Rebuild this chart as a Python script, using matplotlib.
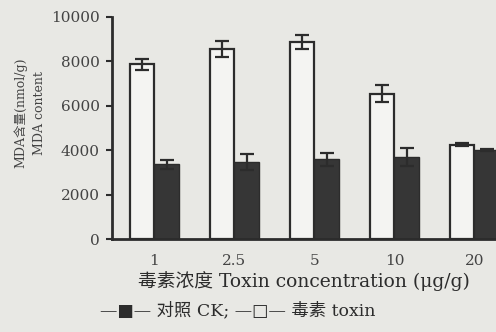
import numpy as np
import matplotlib
matplotlib.use("Agg")
import matplotlib.pyplot as plt

plt.rcParams['font.family'] = ['DejaVu Serif', 'Noto Sans CJK SC', 'DejaVu Sans']

conc = ['1', '2.5', '5', '10', '20']
toxin = [7870, 8550, 8870, 6550, 4250]
toxin_err = [250, 370, 310, 370, 60]
ck = [3360, 3480, 3590, 3690, 4000]
ck_err = [190, 370, 290, 390, 40]

bg = '#e8e8e4'
ink = '#2c2c2c'

fig = plt.figure(figsize=(4.96, 3.32), dpi=100, facecolor=bg)
ax = fig.add_axes([0.226, 0.28, 0.774, 0.669], facecolor=bg)

x = np.arange(len(conc))
w = 0.31
ax.bar(x - w/2, toxin, w, color='#f4f4f2', edgecolor=ink, linewidth=1.6,
       yerr=toxin_err, error_kw=dict(ecolor=ink, elinewidth=1.6, capsize=5, capthick=1.6))
ax.bar(x + w/2, ck, w, color='#363636', edgecolor=ink, linewidth=1.0,
       yerr=ck_err, error_kw=dict(ecolor=ink, elinewidth=1.6, capsize=5, capthick=1.6))

ax.set_xlim(-0.53, 4.27)
ax.set_ylim(0, 10000)
ax.set_yticks(np.arange(0, 10001, 2000))
ax.set_xticks(x)
ax.set_xticklabels(conc)
ax.tick_params(axis='x', length=0, pad=11, labelsize=11, colors='#444444')
ax.tick_params(axis='y', length=4, width=1.5, direction='out', labelsize=11, colors='#444444', pad=5)
ax.tick_params(axis='y', color=ink)
for s in ['top', 'right']:
    ax.spines[s].set_visible(False)
for s in ['left', 'bottom']:
    ax.spines[s].set_linewidth(2.0)
    ax.spines[s].set_color(ink)

ax.set_xlabel('毒素浓度 Toxin concentration (μg/g)', fontsize=13.5, color=ink, labelpad=2)
fig.text(0.06, 0.66, 'MDA含量(nmol/g)\nMDA content', rotation=90, ha='center', va='center',
         fontsize=9, color='#444444', linespacing=1.6)
fig.text(0.48, 0.065, '—■— 对照 CK; —□— 毒素 toxin', ha='center', va='center',
         fontsize=12.5, color=ink)

fig.savefig('out.png', dpi=100, facecolor=bg)
